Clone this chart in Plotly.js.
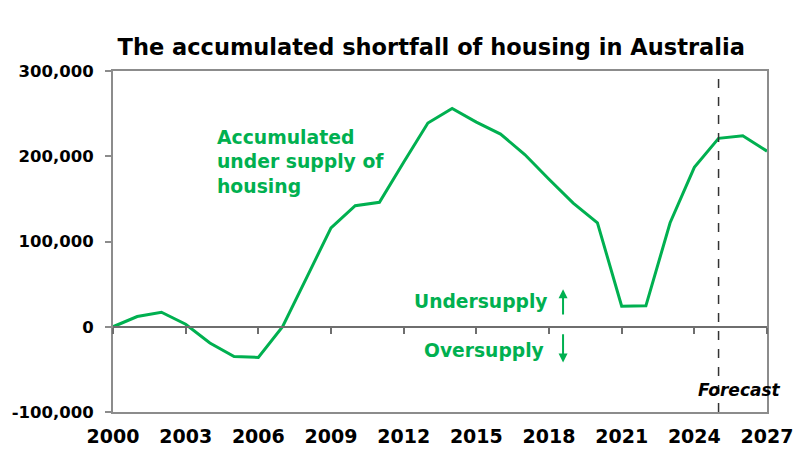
<!DOCTYPE html>
<html>
<head>
<meta charset="utf-8">
<script src="https://cdn.plot.ly/plotly-3.0.1.min.js"></script>
<style>html,body{margin:0;padding:0;background:#fff;}#chart{width:800px;height:463px;}</style>
</head>
<body>
<div id="chart"></div>
<script>
var years = [2000,2001,2002,2003,2004,2005,2006,2007,2008,2009,2010,2011,2012,2013,2014,2015,2016,2017,2018,2019,2020,2021,2022,2023,2024,2025,2026,2027];
var shortfall = [0,12000,17000,3000,-19000,-35000,-36000,0,58000,116000,142000,146000,193000,239000,256000,240000,226000,202000,173000,145000,122000,24000,24500,122000,187000,221000,224000,206000];
var yTickVals = [-100000,0,100000,200000,300000];
var yTickText = ["-100,000","0","100,000","200,000","300,000"];
var xTickVals = [2000,2003,2006,2009,2012,2015,2018,2021,2024,2027];
var forecastStart = 2025;

var GREEN = '#00B050';
var FONT = 'DejaVu Sans, Liberation Sans, Arial, sans-serif';

var traces = [
  {x: years, y: shortfall, type: 'scatter', mode: 'lines',
   line: {color: GREEN, width: 3}, hoverinfo: 'skip', xaxis: 'x', yaxis: 'y'},
  {x: years, y: shortfall, type: 'scatter', mode: 'lines',
   line: {color: 'rgba(0,0,0,0)', width: 0}, hoverinfo: 'skip', xaxis: 'x2', yaxis: 'y', showlegend: false}
];

var layout = {
  width: 800, height: 463,
  margin: {l: 113, r: 33, t: 71, b: 51},
  paper_bgcolor: '#fff', plot_bgcolor: '#fff',
  showlegend: false,
  title: {text: 'The accumulated shortfall of housing in Australia',
          font: {family: FONT, size: 22.5, color: '#000', weight: 'bold'},
          x: 0.539, xanchor: 'center', xref: 'container',
          y: 0.898, yanchor: 'middle', yref: 'container'},
  xaxis: {range: [2000, 2027], tickvals: xTickVals, ticktext: xTickVals.map(String),
          showgrid: false, zeroline: false, showline: true, mirror: true,
          linecolor: '#8c8c8c', linewidth: 2, ticks: '',
          ticklabelstandoff: 6,
          tickfont: {family: FONT, size: 19, color: '#000', weight: 'bold'}},
  xaxis2: {range: [2000, 2027], overlaying: 'x', anchor: 'free', position: 0.25,
           tickvals: xTickVals, showticklabels: false, showgrid: false, zeroline: false,
           showline: true, linecolor: '#6e6e6e', linewidth: 2,
           ticks: 'outside', ticklen: 6, tickwidth: 2, tickcolor: '#6e6e6e'},
  yaxis: {range: [-100000, 300000], tickvals: yTickVals, ticktext: yTickText,
          showgrid: false, zeroline: false, showline: true, mirror: true,
          linecolor: '#8c8c8c', linewidth: 2,
          ticks: 'outside', ticklen: 6, tickwidth: 2, tickcolor: '#8c8c8c',
          ticklabelstandoff: 8,
          tickfont: {family: FONT, size: 16.5, color: '#000', weight: 'bold'}},
  shapes: [
    {type: 'line', xref: 'x', yref: 'paper', x0: forecastStart, x1: forecastStart, y0: 0, y1: 1,
     line: {color: '#333', width: 1.5, dash: 'dash'}}
  ],
  annotations: [
    {text: 'Accumulated<br>under supply of<br>housing', xref: 'x', yref: 'y', x: 2004.2, y: 193000,
     xanchor: 'left', yanchor: 'middle', align: 'left', showarrow: false,
     font: {family: FONT, size: 18.8, color: GREEN, weight: 'bold'}},
    {text: 'Undersupply', xref: 'x', yref: 'y', x: 2015.2, y: 29300,
     xanchor: 'center', yanchor: 'middle', showarrow: false,
     font: {family: FONT, size: 18.7, color: GREEN, weight: 'bold'}},
    {text: 'Oversupply', xref: 'x', yref: 'y', x: 2015.3, y: -28000,
     xanchor: 'center', yanchor: 'middle', showarrow: false,
     font: {family: FONT, size: 18.7, color: GREEN, weight: 'bold'}},
    {text: '', xref: 'x', yref: 'y', axref: 'x', ayref: 'y', x: 2018.58, y: 44000, ax: 2018.58, ay: 12500,
     showarrow: true, arrowhead: 2, arrowsize: 0.9, arrowwidth: 2, arrowcolor: GREEN},
    {text: '', xref: 'x', yref: 'y', axref: 'x', ayref: 'y', x: 2018.58, y: -42000, ax: 2018.58, ay: -7000,
     showarrow: true, arrowhead: 2, arrowsize: 0.9, arrowwidth: 2, arrowcolor: GREEN},
    {text: 'Forecast', xref: 'x', yref: 'y', x: 2025.85, y: -74000,
     xanchor: 'center', yanchor: 'middle', showarrow: false,
     font: {family: FONT, size: 17, color: '#000', weight: 'bold', style: 'italic'}}
  ]
};

Plotly.newPlot('chart', traces, layout, {staticPlot: true, displayModeBar: false});
</script>
</body>
</html>
